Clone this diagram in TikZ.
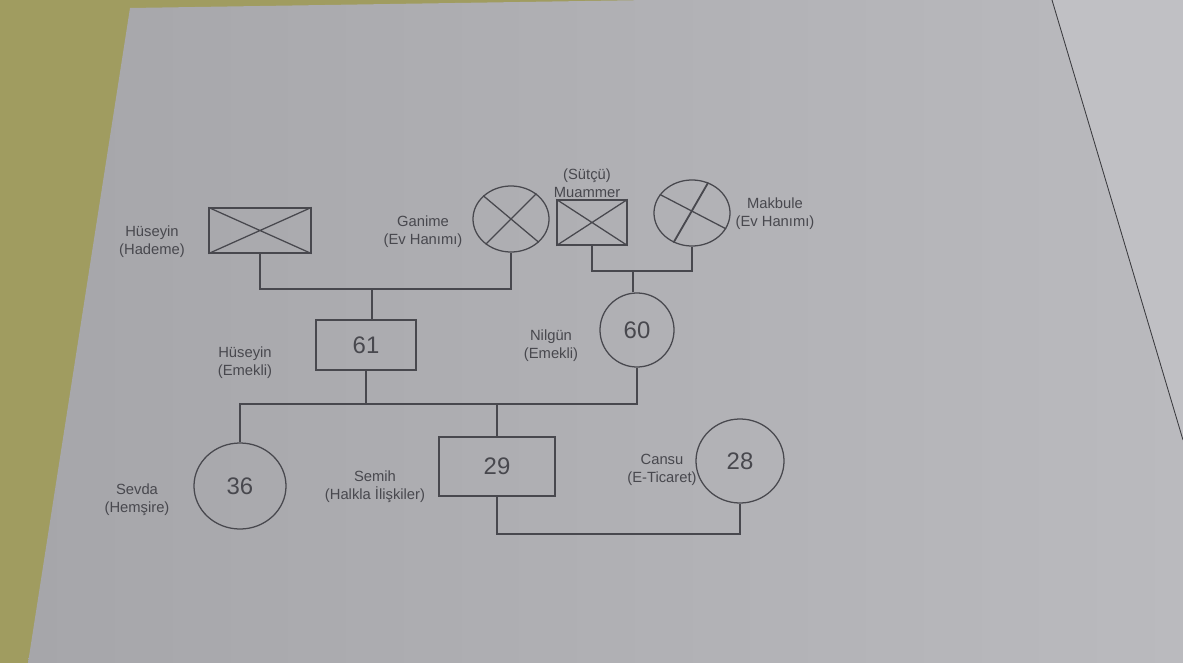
\documentclass[tikz,border=0pt]{standalone}
\usepackage{fontspec}
\setmainfont{Liberation Sans}
\usetikzlibrary{shapes.geometric}

\definecolor{masa}{RGB}{160,156,96}
\definecolor{kagitL}{RGB}{166,166,170}
\definecolor{kagitR}{RGB}{186,186,190}
\definecolor{kagitB}{RGB}{192,192,196}
\definecolor{kursun}{RGB}{72,72,78}

\begin{document}
\begin{tikzpicture}[
  x=0.025cm, y=-0.025cm,
  erkek/.style={rectangle, draw=kursun, line width=0.9pt, inner sep=0pt,
    text=kursun, font=\fontsize{17}{19}\selectfont},
  kadin/.style={ellipse, draw=kursun, line width=0.9pt, inner sep=0pt,
    text=kursun, font=\fontsize{17}{19}\selectfont},
  bag/.style={draw=kursun, line width=0.9pt},
  etiket/.style={align=center, text=kursun, inner sep=0pt,
    font=\fontsize{10.5}{13}\selectfont}
]

% ====== PAPER ======
\useasboundingbox (0,0) rectangle (1183,663);
\fill[masa] (0,0) rectangle (1183,663);
\shade[left color=kagitL, right color=kagitR]
  (130,8) -- (650,0) -- (1183,0) -- (1183,663) -- (28,663) -- cycle;
\fill[kagitB] (1052,0) -- (1183,0) -- (1183,440) -- cycle;
\draw[kursun!80!black, line width=0.6pt] (1052,0) -- (1183,440);

% ====== GRANDPARENTS ======
\node[erkek, minimum width=2.55cm, minimum height=1.125cm] (dedeH) at (260,230.5) {};
\draw[bag] (dedeH.north west) -- (dedeH.south east)
           (dedeH.north east) -- (dedeH.south west);
\node[etiket] (dedeHlbl) at (152,242) {Hüseyin\\(Hademe)};

\node[kadin, minimum width=1.9cm, minimum height=1.65cm] (ganime) at (511,219) {};
\draw[bag] (ganime.140) -- (ganime.-40) (ganime.45) -- (ganime.225);
\node[etiket] (ganimelbl) at (423,232) {Ganime\\(Ev Hanımı)};

\node[erkek, minimum width=1.75cm, minimum height=1.125cm] (muammer) at (592,222.5) {};
\draw[bag] (muammer.north west) -- (muammer.south east)
           (muammer.north east) -- (muammer.south west);
\node[etiket] (muammerlbl) at (587,183) {(Sütçü)\\Muammer};

\node[kadin, minimum width=1.9cm, minimum height=1.65cm] (makbule) at (692,213) {};
\draw[bag] (makbule.150) -- (makbule.-25);
\draw[bag, line width=1.3pt] (makbule.62) -- (makbule.238);
\node[etiket] (makbulelbl) at (775,214) {Makbule\\(Ev Hanımı)};

% ====== PARENTS ======
\node[erkek, minimum width=2.5cm, minimum height=1.25cm] (babaH) at (366,345) {61};
\node[etiket] (babaHlbl) at (245,363) {Hüseyin\\(Emekli)};

\node[kadin, minimum width=1.85cm, minimum height=1.85cm] (nilgun) at (637,330) {60};
\node[etiket] (nilgunlbl) at (551,346) {Nilgün\\(Emekli)};

\coordinate (evlilik1) at (372,289);
\coordinate (evlilik2) at (633,271);
\draw[bag] (dedeH.south) |- (evlilik1) -| (ganime.south);
\draw[bag] (evlilik1) -- (evlilik1 |- babaH.north);
\draw[bag] (muammer.south) |- (evlilik2) -| (makbule.south);
\draw[bag] (evlilik2) -- (evlilik2 |- nilgun.north);

% ====== CHILDREN ======
\node[kadin, minimum width=2.3cm, minimum height=2.15cm] (sevda) at (240,486) {36};
\node[etiket] (sevdalbl) at (137,500) {Sevda\\(Hemşire)};

\node[erkek, minimum width=2.9cm, minimum height=1.475cm] (semih) at (497,466.5) {29};
\node[etiket] (semihlbl) at (375,487) {Semih\\(Halkla İlişkiler)};

\node[kadin, minimum width=2.2cm, minimum height=2.1cm] (cansu) at (740,461) {28};
\node[etiket] (cansulbl) at (662,470) {Cansu\\(E-Ticaret)};

\coordinate (kardes) at (497,404);
\coordinate (evlilik3) at (620,534);
\draw[bag] (sevda.north) |- (kardes) -| (nilgun.south);
\draw[bag] (babaH.south) -- (babaH.south |- kardes);
\draw[bag] (kardes) -- (semih.north);
\draw[bag] (semih.south) |- (evlilik3) -| (cansu.south);

\end{tikzpicture}
\end{document}
